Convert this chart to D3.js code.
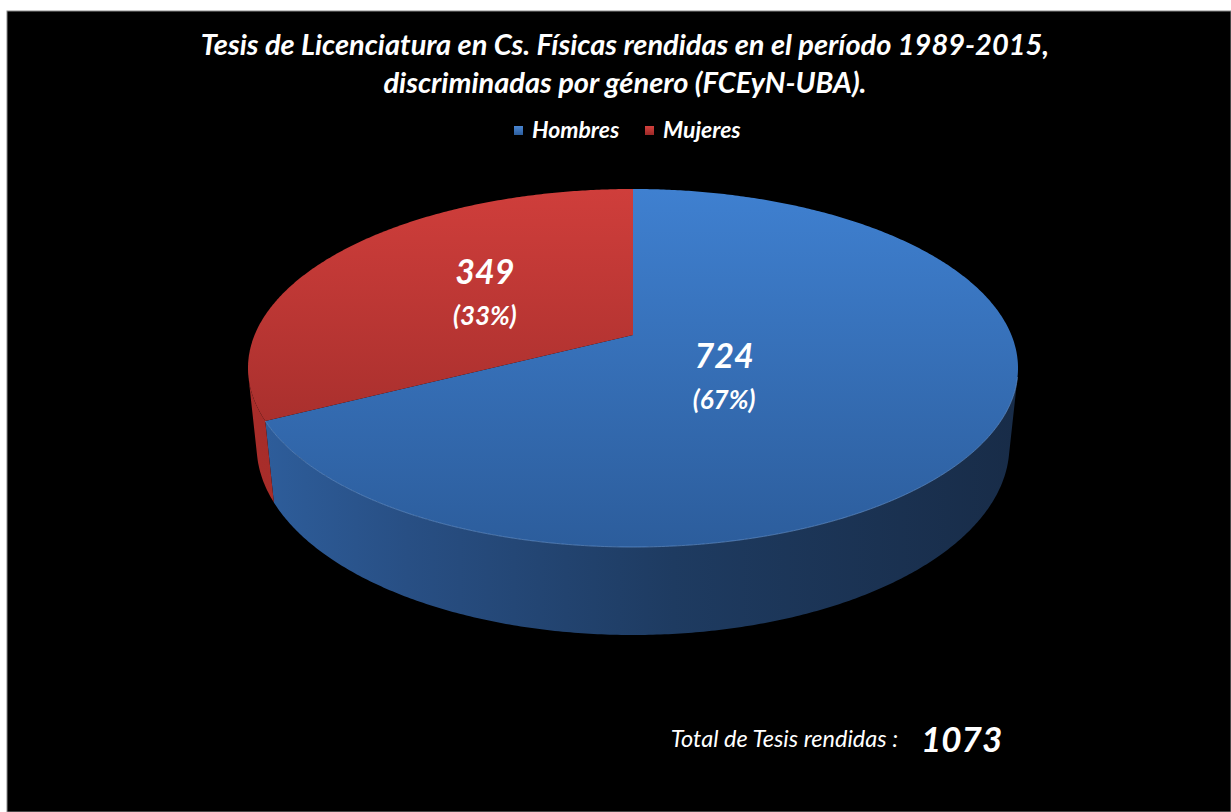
<!DOCTYPE html>
<html>
<head>
<meta charset="utf-8">
<script src="https://cdn.jsdelivr.net/npm/d3@7"></script>
<style>
  html, body { margin: 0; padding: 0; background: #ffffff; }
  svg { display: block; }
  text { font-family: Lato, "Open Sans", sans-serif; font-style: italic; fill: #ffffff; }
</style>
</head>
<body>
<div id="chart"></div>
<script>
// data
var categories = ["Hombres", "Mujeres"];
var counts = [724, 349];
var percentLabels = ["(67%)", "(33%)"];
var titleLines = ["Tesis de Licenciatura en Cs. Físicas rendidas en el período 1989-2015,",
                  "discriminadas por género (FCEyN-UBA)."];
var totalLabel = "Total de Tesis rendidas :";
var totalValue = d3.sum(counts);

var W = 1231, H = 812;

var svg = d3.select("#chart").append("svg")
  .attr("width", W).attr("height", H);

svg.append("rect")
  .attr("x", 7).attr("y", 11)
  .attr("width", W - 7).attr("height", H - 11)
  .attr("fill", "#000000")
  .attr("stroke", "#8a8a8a").attr("stroke-width", 1);

// perspective projection for a tilted disk
var cx = 633, cy0 = 335, k = 378.4;
var sinA = 0.457, cosA = 0.889, rho = 0.2074, tau = 0.233;

function proj(theta, r, h)
{
  var X = r * Math.sin(theta), Z = r * Math.cos(theta);
  var den = 1 + rho * cosA * Z + h * rho * tau * sinA;
  return [cx + k * X / den, cy0 - k * (sinA * Z - h * tau * cosA) / den];
}

var pie = d3.pie().sort(null).value(function(d) { return d; });
var arcs = pie(counts);

var defs = svg.append("defs");

function vGrad(id, c0, c1)
{
  var g = defs.append("linearGradient").attr("id", id)
    .attr("gradientUnits", "userSpaceOnUse")
    .attr("x1", 0).attr("y1", 189).attr("x2", 0).attr("y2", 547);
  g.append("stop").attr("offset", 0).attr("stop-color", c0);
  g.append("stop").attr("offset", 1).attr("stop-color", c1);
}
function hGrad(id, stops)
{
  var g = defs.append("linearGradient").attr("id", id)
    .attr("gradientUnits", "userSpaceOnUse")
    .attr("x1", 255).attr("y1", 0).attr("x2", 1015).attr("y2", 0);
  stops.forEach(function(s) {
    g.append("stop").attr("offset", s[0]).attr("stop-color", s[1]);
  });
}
vGrad("topBlue", "#3f80d0", "#2c5d9c");
vGrad("topRed", "#cf3e3b", "#952826");
hGrad("sideBlue", [[0, "#2e5e9c"], [0.2, "#284f84"], [0.55, "#1e3b61"], [1, "#182c48"]]);
hGrad("sideRed", [[0, "#a82d2a"], [1, "#8a2321"]]);

var topFill = ["url(#topBlue)", "url(#topRed)"];
var sideFill = ["url(#sideBlue)", "url(#sideRed)"];

var step = Math.PI / 360;
var vis0 = Math.acos(-rho / cosA), vis1 = 2 * Math.PI - vis0;

function range(a0, a1)
{
  var pts = [];
  for (var t = a0; t < a1; t += step) pts.push(t);
  pts.push(a1);
  return pts;
}

var line = d3.line();

// side walls
arcs.forEach(function(a, i) {
  var t0 = Math.max(a.startAngle, vis0), t1 = Math.min(a.endAngle, vis1);
  if (t1 <= t0) return;
  var ts = range(t0, t1);
  var pts = ts.map(function(t) { return proj(t, 1, 0); })
    .concat(ts.slice().reverse().map(function(t) { return proj(t, 1, 1); }));
  svg.append("path")
    .attr("d", line(pts) + "Z")
    .attr("fill", sideFill[i]);
});

// top faces
arcs.forEach(function(a, i) {
  var pts = [proj(0, 0, 0)].concat(range(a.startAngle, a.endAngle).map(function(t) { return proj(t, 1, 0); }));
  svg.append("path")
    .attr("d", line(pts) + "Z")
    .attr("fill", topFill[i]);
});

// light rim on the front edge
var rimTs = range(Math.max(arcs[0].startAngle, vis0), Math.min(arcs[0].endAngle, vis1));
svg.append("path")
  .attr("d", line(rimTs.map(function(t) { return proj(t, 1, 0); })))
  .attr("fill", "none")
  .attr("stroke", "#6a9ad6").attr("stroke-width", 1).attr("stroke-opacity", 0.6);

// data labels (placed like Excel: radius fraction and angle nudge per slice)
var labelRadius = [0.33, 0.48];
var labelNudge = [0.25, 0];
arcs.forEach(function(a, i) {
  var mid = (a.startAngle + a.endAngle) / 2 + labelNudge[i];
  var c = proj(mid, labelRadius[i], 0);
  svg.append("text")
    .attr("x", c[0]).attr("y", c[1] - 10)
    .attr("text-anchor", "middle")
    .attr("font-size", 34).attr("font-weight", "bold")
    .text(counts[i]);
  svg.append("text")
    .attr("x", c[0]).attr("y", c[1] + 31)
    .attr("text-anchor", "middle")
    .attr("font-size", 26).attr("font-weight", "bold")
    .text(percentLabels[i]);
});

// title
svg.selectAll(".title").data(titleLines).enter().append("text")
  .attr("class", "title")
  .attr("x", 625).attr("y", function(d, i) { return 55 + i * 38; })
  .attr("text-anchor", "middle")
  .attr("font-size", 29).attr("font-weight", "bold")
  .text(function(d) { return d; });

// legend
var legendColors = [["#4a86d2", "#2c5d9c"], ["#d4413e", "#9b2927"]];
var legendX = [514, 645];
categories.forEach(function(c, i) {
  var g = defs.append("linearGradient").attr("id", "lg" + i)
    .attr("x1", 0).attr("y1", 0).attr("x2", 0).attr("y2", 1);
  g.append("stop").attr("offset", 0).attr("stop-color", legendColors[i][0]);
  g.append("stop").attr("offset", 1).attr("stop-color", legendColors[i][1]);
  svg.append("rect")
    .attr("x", legendX[i]).attr("y", 126)
    .attr("width", 9).attr("height", 9)
    .attr("fill", "url(#lg" + i + ")");
  svg.append("text")
    .attr("x", legendX[i] + 18).attr("y", 138)
    .attr("font-size", 23).attr("font-weight", "bold")
    .text(c);
});

// total
svg.append("text")
  .attr("x", 898).attr("y", 747)
  .attr("text-anchor", "end")
  .attr("font-size", 23.5)
  .text(totalLabel);
svg.append("text")
  .attr("x", 921).attr("y", 752)
  .attr("font-size", 35).attr("font-weight", "bold")
  .text(totalValue);
</script>
</body>
</html>
